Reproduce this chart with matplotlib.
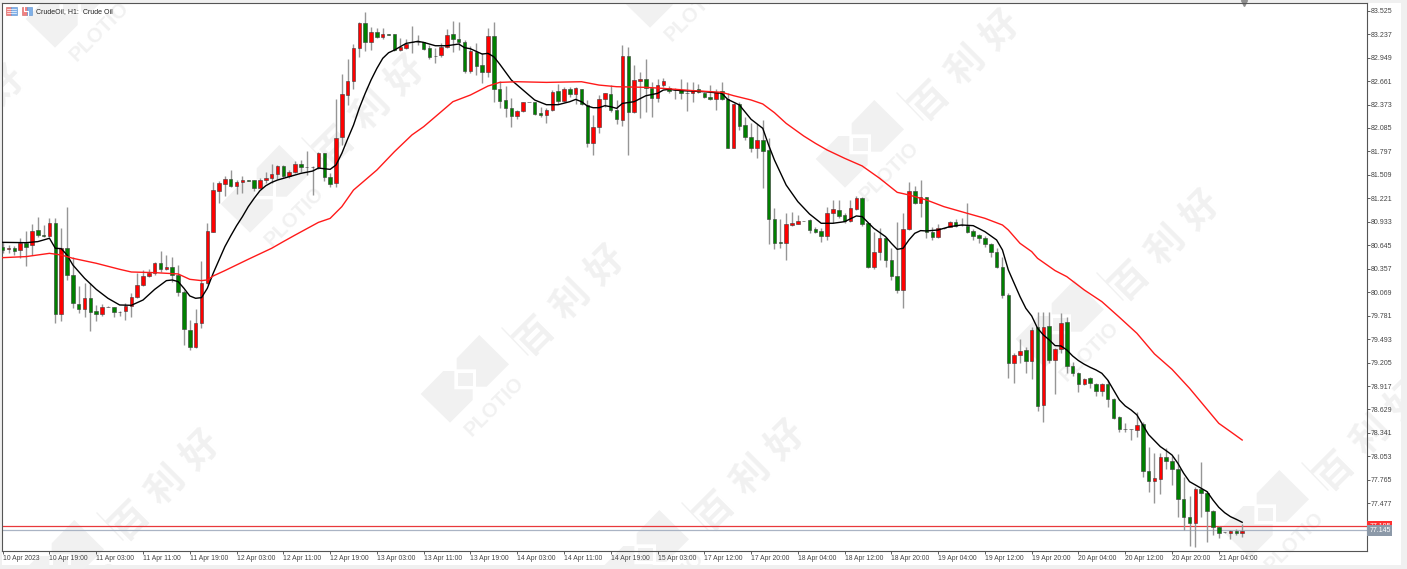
import matplotlib
matplotlib.use("Agg")
import matplotlib.pyplot as plt
from matplotlib.patches import Polygon, Rectangle

## candles, green = falling, red = rising
opens = [80.62, 80.596, 80.608, 80.587, 80.669, 80.649, 80.833, 80.771, 80.763, 80.915,
         79.802, 80.608, 80.280, 79.924, 79.859, 79.994, 79.834, 79.797, 79.892, 79.888,
         79.830, 79.838, 79.904, 80.006, 80.158, 80.268, 80.309, 80.424, 80.358, 80.375,
         80.276, 80.072, 79.605, 79.392, 79.695, 80.178, 80.812, 81.315, 81.397, 81.462,
         81.376, 81.417, 81.442, 81.442, 81.352, 81.442, 81.470, 81.516, 81.618, 81.495,
         81.540, 81.642, 81.612, 81.610, 81.602, 81.773, 81.487, 81.405, 81.970, 82.490,
         82.666, 83.071, 83.370, 83.144, 83.267, 83.198, 83.236, 83.234, 83.042, 83.071,
         83.146, 83.146, 83.144, 83.071, 82.974, 82.981, 83.083, 83.239, 83.177, 83.144,
         82.788, 83.022, 82.858, 82.776, 83.214, 82.559, 82.428, 82.326, 82.232, 82.297,
         82.408, 82.404, 82.264, 82.240, 82.305, 82.539, 82.420, 82.559, 82.498, 82.567,
         82.367, 81.896, 82.093, 82.436, 82.502, 82.305, 82.183, 82.968, 82.285, 82.666,
         82.682, 82.571, 82.457, 82.608, 82.570, 82.553, 82.552, 82.512, 82.511, 82.560,
         82.519, 82.462, 82.437, 82.543, 82.437, 81.844, 82.380, 82.122, 81.971, 81.844,
         81.938, 81.815, 80.968, 80.690, 80.677, 80.894, 80.911, 80.940, 80.952, 80.841,
         80.816, 80.763, 81.046, 81.078, 81.017, 80.947, 81.091, 81.226, 80.915, 80.374,
         80.567, 80.731, 80.464, 80.272, 80.096, 80.845, 81.312, 81.168, 81.234, 80.812,
         80.751, 80.856, 80.874, 80.931, 80.895, 80.886, 80.821, 80.771, 80.739, 80.657,
         80.567, 80.375, 80.035, 79.204, 79.298, 79.360, 79.225, 79.646, 78.684, 79.654,
         79.237, 79.368, 79.699, 79.163, 79.081, 78.938, 79.012, 78.946, 78.860, 78.938,
         78.754, 78.541, 78.391, 78.391, 78.378, 78.451, 77.878, 77.755, 77.776, 78.050,
         78.001, 77.898, 77.525, 77.312, 77.231, 77.648, 77.599, 77.382, 77.190, 77.121,
         77.108, 77.132, 77.108]
closes = [80.587, 80.608, 80.579, 80.669, 80.628, 80.825, 80.767, 80.765, 80.915, 79.802,
          80.608, 80.280, 79.933, 79.859, 79.994, 79.830, 79.802, 79.892, 79.888, 79.830,
          79.826, 79.904, 80.006, 80.158, 80.268, 80.309, 80.424, 80.358, 80.383, 80.276,
          80.072, 79.613, 79.392, 79.695, 80.178, 80.821, 81.323, 81.405, 81.454, 81.372,
          81.417, 81.446, 81.440, 81.352, 81.442, 81.470, 81.516, 81.614, 81.495, 81.540,
          81.642, 81.610, 81.608, 81.608, 81.773, 81.487, 81.397, 81.966, 82.498, 82.666,
          83.071, 83.370, 83.144, 83.267, 83.198, 83.234, 83.232, 83.042, 83.075, 83.116,
          83.140, 83.144, 83.054, 82.960, 82.972, 83.083, 83.226, 83.173, 83.140, 82.784,
          83.030, 82.850, 82.768, 83.214, 82.559, 82.420, 82.326, 82.232, 82.293, 82.404,
          82.406, 82.256, 82.240, 82.305, 82.530, 82.420, 82.559, 82.498, 82.571, 82.379,
          81.896, 82.093, 82.436, 82.510, 82.305, 82.191, 82.968, 82.285, 82.674, 82.682,
          82.571, 82.457, 82.608, 82.661, 82.540, 82.551, 82.511, 82.510, 82.544, 82.531,
          82.462, 82.437, 82.531, 82.437, 81.844, 82.380, 82.114, 81.971, 81.844, 81.938,
          81.807, 80.964, 80.677, 80.669, 80.907, 80.915, 80.939, 80.938, 80.833, 80.804,
          80.763, 81.037, 81.087, 81.009, 80.943, 81.099, 81.222, 80.902, 80.374, 80.567,
          80.739, 80.464, 80.268, 80.096, 80.845, 81.312, 81.168, 81.234, 80.812, 80.751,
          80.862, 80.853, 80.927, 80.886, 80.893, 80.808, 80.763, 80.739, 80.661, 80.567,
          80.374, 80.035, 79.204, 79.298, 79.352, 79.221, 79.605, 78.676, 79.646, 79.237,
          79.368, 79.687, 79.163, 79.081, 78.938, 79.004, 78.951, 78.860, 78.938, 78.754,
          78.529, 78.390, 78.389, 78.389, 78.439, 77.878, 77.755, 77.788, 78.042, 78.001,
          77.898, 77.534, 77.312, 77.239, 77.652, 77.599, 77.386, 77.182, 77.116, 77.119,
          77.132, 77.108, 77.136]
highs = [80.69, 80.649, 80.637, 80.739, 80.825, 80.902, 80.997, 80.894, 80.976, 80.976,
         80.853, 81.111, 80.506, 80.145, 80.178, 80.178, 79.912, 79.924, 79.894, 79.892,
         79.832, 79.933, 80.055, 80.301, 80.342, 80.350, 80.444, 80.579, 80.526, 80.497,
         80.403, 80.096, 79.728, 79.859, 80.456, 80.915, 81.426, 81.438, 81.495, 81.569,
         81.446, 81.495, 81.445, 81.444, 81.470, 81.548, 81.638, 81.630, 81.630, 81.569,
         81.683, 81.692, 81.806, 81.618, 81.790, 81.775, 81.528, 82.436, 82.747, 82.928,
         83.116, 83.390, 83.513, 83.329, 83.308, 83.308, 83.238, 83.236, 83.185, 83.173,
         83.337, 83.226, 83.146, 83.104, 83.063, 83.124, 83.296, 83.402, 83.390, 83.165,
         83.091, 83.132, 83.001, 83.308, 83.390, 82.666, 82.600, 82.449, 82.305, 82.408,
         82.410, 82.408, 82.338, 82.326, 82.551, 82.625, 82.584, 82.584, 82.584, 82.569,
         82.428, 82.244, 82.490, 82.518, 82.612, 82.428, 83.104, 83.083, 82.858, 82.776,
         82.928, 82.653, 82.682, 82.694, 82.600, 82.572, 82.687, 82.654, 82.654, 82.621,
         82.531, 82.613, 82.560, 82.650, 82.511, 82.388, 82.408, 82.224, 82.142, 82.134,
         82.183, 81.958, 81.099, 80.964, 81.037, 81.058, 81.017, 80.941, 80.964, 80.874,
         80.853, 81.111, 81.201, 81.201, 81.037, 81.201, 81.250, 81.234, 80.923, 80.813,
         80.853, 80.751, 80.608, 80.927, 81.037, 81.426, 81.373, 81.447, 81.242, 80.874,
         80.902, 80.862, 80.939, 80.964, 80.976, 81.168, 80.841, 80.784, 80.759, 80.669,
         80.608, 80.497, 80.055, 79.319, 79.491, 79.401, 79.646, 79.830, 79.830, 79.830,
         79.380, 79.810, 79.769, 79.216, 79.094, 79.012, 79.032, 78.959, 78.959, 78.991,
         78.766, 78.549, 78.468, 78.392, 78.603, 78.480, 78.164, 78.091, 78.091, 78.152,
         78.058, 78.082, 77.804, 77.566, 77.673, 77.980, 77.632, 77.394, 77.198, 77.122,
         77.149, 77.157, 77.222]
lows = [80.546, 80.546, 80.526, 80.485, 80.391, 80.526, 80.751, 80.751, 80.751, 79.695,
        79.720, 80.219, 79.871, 79.818, 79.761, 79.597, 79.720, 79.777, 79.886, 79.769,
        79.777, 79.728, 79.761, 79.994, 80.149, 80.252, 80.280, 80.321, 80.342, 80.199,
        80.023, 79.421, 79.360, 79.380, 79.626, 80.170, 80.812, 81.168, 81.250, 81.356,
        81.274, 81.291, 81.438, 81.315, 81.344, 81.413, 81.413, 81.454, 81.466, 81.466,
        81.528, 81.548, 81.507, 81.262, 81.577, 81.438, 81.356, 81.364, 81.876, 82.367,
        82.559, 82.960, 83.034, 83.042, 83.185, 83.173, 83.230, 83.034, 83.034, 83.050,
        83.009, 83.103, 83.042, 82.927, 82.878, 82.960, 83.063, 83.022, 83.042, 82.764,
        82.756, 82.735, 82.633, 82.715, 82.408, 82.326, 82.224, 82.093, 82.191, 82.285,
        82.404, 82.244, 82.224, 82.142, 82.297, 82.379, 82.408, 82.461, 82.379, 82.363,
        81.855, 81.753, 82.019, 82.346, 82.285, 82.134, 82.109, 81.753, 82.273, 82.203,
        82.285, 82.215, 82.408, 82.584, 82.520, 82.437, 82.437, 82.298, 82.408, 82.511,
        82.449, 82.429, 82.306, 82.429, 81.835, 81.835, 82.061, 81.938, 81.795, 81.713,
        81.344, 80.661, 80.595, 80.608, 80.464, 80.886, 80.907, 80.937, 80.792, 80.792,
        80.690, 80.710, 80.915, 80.976, 80.915, 80.935, 81.078, 80.882, 80.362, 80.350,
        80.464, 80.383, 80.219, 80.060, 79.875, 80.833, 81.152, 80.997, 80.731, 80.710,
        80.731, 80.850, 80.866, 80.874, 80.882, 80.800, 80.710, 80.669, 80.628, 80.505,
        80.362, 79.994, 79.020, 78.951, 79.196, 79.073, 78.999, 78.615, 78.480, 79.196,
        78.815, 79.319, 79.073, 79.040, 78.848, 78.930, 78.897, 78.799, 78.799, 78.664,
        78.508, 78.357, 78.357, 78.255, 78.288, 77.796, 77.620, 77.485, 77.591, 77.894,
        77.702, 77.314, 77.149, 76.952, 76.944, 77.312, 76.997, 77.087, 77.046, 77.118,
        77.038, 77.087, 77.059]

## moving averages, read at the bars where the curve could be followed
fast_bars = [0, 4, 6, 8, 9, 10, 11, 12, 14, 16, 18, 20, 22, 24, 26, 28, 29, 30, 31, 32, 33, 34, 35, 36,
             38, 39, 40, 41, 42, 43, 44, 45, 46, 47, 48, 49, 51, 53, 54, 56, 57, 58, 59, 60, 61, 62, 63,
             64, 65, 66, 67, 69, 71, 72, 74, 76, 78, 79, 80, 82, 83, 84, 85, 87, 89, 91, 93, 95, 97, 98,
             99, 100, 101, 102, 103, 104, 105, 106, 108, 110, 112, 113, 114, 116, 120, 123, 124, 126, 128,
             130, 131, 132, 134, 136, 138, 140, 142, 144, 146, 147, 149, 151, 152, 153, 154, 155, 156, 157,
             158, 160, 162, 164, 166, 168, 170, 171, 172, 173, 174, 175, 176, 177, 178, 179, 180, 181, 182,
             183, 184, 185, 186, 187, 188, 189, 190, 191, 192, 193, 194, 195, 196, 197, 198, 199, 200, 201,
             202, 203, 204, 205, 206, 207, 208, 209, 210, 211, 212]
fast_ma = [80.681, 80.677, 80.690, 80.731, 80.608, 80.604, 80.526, 80.403, 80.240, 80.104, 79.994, 79.912,
           79.908, 79.973, 80.104, 80.211, 80.219, 80.199, 80.117, 80.023, 79.994, 80.002, 80.117, 80.301,
           80.628, 80.760, 80.885, 80.996, 81.119, 81.221, 81.315, 81.376, 81.417, 81.446, 81.466, 81.487,
           81.528, 81.556, 81.593, 81.577, 81.630, 81.773, 81.950, 82.120, 82.330, 82.510, 82.674,
           82.817, 82.940, 83.009, 83.042, 83.124, 83.149, 83.136, 83.095, 83.095, 83.116, 83.071, 83.058,
           82.993, 83.001, 82.960, 82.870, 82.674, 82.551, 82.428, 82.371, 82.371, 82.408, 82.436,
           82.408, 82.355, 82.334, 82.334, 82.359, 82.346, 82.326, 82.387, 82.408, 82.481, 82.510, 82.551,
           82.559, 82.544, 82.531, 82.511, 82.437, 82.368, 82.192, 82.081, 81.876, 81.692, 81.385, 81.181,
           81.029, 80.915, 80.915, 80.935, 81.005, 80.997, 80.853, 80.751, 80.669, 80.595, 80.608, 80.710,
           80.792, 80.825, 80.821, 80.833, 80.874, 80.894, 80.886, 80.812, 80.710, 80.587, 80.342, 80.178,
           80.015, 79.871, 79.777, 79.626, 79.544, 79.483, 79.413, 79.409, 79.360, 79.286, 79.229, 79.184,
           79.147, 79.114, 79.073, 78.991, 78.869, 78.746, 78.672, 78.623, 78.562, 78.439, 78.320, 78.246,
           78.173, 78.123, 78.070, 77.968, 77.845, 77.743, 77.702, 77.661, 77.620, 77.518, 77.428, 77.362,
           77.313, 77.280, 77.244]
slow_bars = [0, 4, 6, 8, 10, 12, 16, 20, 22, 26, 30, 32, 34, 35, 36, 38, 42, 46, 48, 50, 54, 56, 58, 60, 64,
             67, 70, 72, 75, 77, 80, 83, 85, 88, 93, 99, 102, 105, 110, 113, 118, 123, 125, 128, 130, 132,
             134, 137, 139, 141, 144, 147, 150, 153, 155, 158, 161, 165, 168, 171, 172, 174, 176, 177, 180,
             182, 185, 188, 191, 194, 197, 200, 203, 208, 210, 212]
slow_ma = [80.493, 80.506, 80.526, 80.546, 80.526, 80.485, 80.424, 80.350, 80.317, 80.309, 80.293, 80.227,
           80.211, 80.219, 80.268, 80.334, 80.473, 80.608, 80.690, 80.770, 80.926, 80.975, 81.119, 81.323,
           81.569, 81.794, 82.000, 82.101, 82.285, 82.408, 82.490, 82.600, 82.645, 82.653, 82.645, 82.653,
           82.612, 82.592, 82.584, 82.571, 82.544, 82.523, 82.482, 82.429, 82.380, 82.273, 82.142, 81.987,
           81.897, 81.815, 81.713, 81.619, 81.467, 81.295, 81.263, 81.201, 81.119, 81.037, 80.976, 80.894,
           80.833, 80.669, 80.567, 80.485, 80.334, 80.260, 80.096, 79.953, 79.761, 79.564, 79.311, 79.122,
           78.889, 78.459, 78.357, 78.254]

price_ticks = [83.525, 83.237, 82.949, 82.661, 82.373, 82.085, 81.797, 81.509, 81.221, 80.933, 80.645,
               80.357, 80.069, 79.781, 79.493, 79.205, 78.917, 78.629, 78.341, 78.053, 77.765, 77.477]
time_labels = ["10 Apr 2023", "10 Apr 19:00", "11 Apr 03:00", "11 Apr 11:00", "11 Apr 19:00", "12 Apr 03:00",
               "12 Apr 11:00", "12 Apr 19:00", "13 Apr 03:00", "13 Apr 11:00", "13 Apr 19:00", "14 Apr 03:00",
               "14 Apr 11:00", "14 Apr 19:00", "15 Apr 03:00", "17 Apr 12:00", "17 Apr 20:00", "18 Apr 04:00",
               "18 Apr 12:00", "18 Apr 20:00", "19 Apr 04:00", "19 Apr 12:00", "19 Apr 20:00", "20 Apr 04:00",
               "20 Apr 12:00", "20 Apr 20:00", "21 Apr 04:00"]
bid_price = 77.145
ask_price = 77.195

W, H = 1407, 569
plt.rcParams['font.family'] = ['Liberation Sans', 'DejaVu Sans']

fig = plt.figure(figsize=(W / 100, H / 100), dpi=100, facecolor='#f0f0f0')

## backdrop in pixel coordinates: white panel, watermarks, header
bg = fig.add_axes([0, 0, 1, 1])
bg.set_xlim(0, W)
bg.set_ylim(H, 0)
bg.axis('off')
bg.add_patch(Rectangle((2, 3), 1399, 562, fc='white', ec='none'))

mark = '#f1f1f1'
logo_top = [(170, 115), (238, 45), (327, 133), (260, 200), (228, 200), (228, 148), (170, 148)]
logo_low = [(130, 153), (163, 153), (163, 208), (218, 208), (218, 240), (150, 308), (62, 222)]
logo_box = [(175, 158), (218, 158), (218, 198), (175, 198)]


def watermark(cx, cy):
    for shape in [logo_top, logo_low, logo_box]:
        pts = [(cx + (a - 240) / 3, cy + (b - 195) / 3) for a, b in shape]
        bg.add_patch(Polygon(pts, fc=mark, ec='none'))
    bg.plot([cx + 22, cx + 48], [cy - 57, cy - 30], color=mark, lw=1)
    bg.text(cx + 14, cy + 22, 'PLOTIO', rotation=45, fontsize=14.5, fontweight='bold', color=mark,
            ha='center', va='center', rotation_mode='anchor')
    ## the three characters sit further apart than normal text
    for k, ch in enumerate('百利好'):
        bg.text(cx + 90 + (k - 1) * 35, cy - 85 - (k - 1) * 35, ch, rotation=45, fontsize=27, fontweight='bold',
                color=mark, family=['Noto Sans CJK SC'], ha='center', va='center', rotation_mode='anchor')


for cx, cy in [(85, 10), (280, 195), (480, 385), (680, -10), (875, 150), (1075, 330), (660, 560),
               (1280, 520), (1270, -85), (1470, 95), (75, 570), (-120, 205), (-110, -170)]:
    watermark(cx, cy)

## chart icons next to the symbol name
bg.add_patch(Rectangle((5.5, 7), 5.5, 8, fc='#f08080', ec='#d06060', lw=0.4))
bg.add_patch(Rectangle((11, 7), 5.5, 8, fc='#7fb0e8', ec='#5a90d0', lw=0.4))
for yy in [9, 11, 13]:
    bg.plot([6.5, 15.5], [yy, yy], color='white', lw=0.5)
bg.add_patch(Rectangle((21.5, 7), 5, 8, fc='#f08080', ec='#d06060', lw=0.4))
bg.add_patch(Rectangle((26.5, 7), 5, 8, fc='#7fb0e8', ec='#5a90d0', lw=0.4))
bg.plot([24, 24, 28, 28], [7, 11, 11, 15], color='white', lw=0.8)
bg.text(36, 11.5, 'CrudeOil, H1:  Crude Oil', fontsize=5.0, color='#222222', va='center', ha='left')

## price chart, same scale as the reference axis
ax = fig.add_axes([2 / W, (H - 550.7) / H, 1364.7 / W, 547.4 / H])
ax.set_facecolor('none')
ax.set_xlim(-0.12, 233.3)
ax.set_ylim(76.895, 83.616)

bars = list(range(len(opens)))
body_bottom = [min(a, b) for a, b in zip(opens, closes)]
body_height = [abs(a - b) for a, b in zip(opens, closes)]
body_color = ['#ff0000' if c > a else '#008000' for a, c in zip(opens, closes)]

ax.vlines(bars, lows, highs, color='#969696', lw=1, zorder=2)
ax.bar(bars, body_height, bottom=body_bottom, width=0.6, color=body_color, edgecolor='#3a3a3a', lw=0.4, zorder=3)
ax.plot(fast_bars, fast_ma, color='black', lw=1.0, zorder=4)
ax.plot(slow_bars, slow_ma, color='#ff1a1a', lw=1.0, zorder=4)
ax.axhline(ask_price, color='#e8383b', lw=0.9, zorder=1)
ax.axhline(bid_price, color='#aab4c4', lw=0.9, zorder=1)

ax.yaxis.tick_right()
ax.set_yticks(price_ticks)
ax.set_yticklabels([f"{p:.3f}" for p in price_ticks])
ax.set_xticks(range(0, 8 * len(time_labels), 8))
ax.set_xticklabels(time_labels, ha='left')
ax.tick_params(axis='y', length=2.2, width=0.6, pad=0.6, labelsize=5.0, colors='#444444')
ax.tick_params(axis='x', length=2.2, width=0.6, pad=1.0, labelsize=4.9, colors='#444444')
for side in ax.spines:
    ax.spines[side].set_color('#555555')
    ax.spines[side].set_linewidth(0.8)

## price tags on the axis
ax.text(1.0018, ask_price, f"{ask_price:.3f}", transform=ax.get_yaxis_transform(), fontsize=5.0, color='white',
        va='center', ha='left', zorder=5, clip_on=False,
        bbox=dict(fc='#ff3030', ec='none', pad=1.2))
ax.text(1.0018, bid_price, f"{bid_price:.3f}", transform=ax.get_yaxis_transform(), fontsize=5.0, color='white',
        va='center', ha='left', zorder=6, clip_on=False,
        bbox=dict(fc='#8c99a8', ec='none', pad=1.2))

## shift marker on the top edge
ax.plot([212.3], [1.0], marker='v', ms=4.5, color='#8f8f8f', transform=ax.get_xaxis_transform(), clip_on=False)

fig.savefig('out.png', dpi=100, facecolor=fig.get_facecolor())
